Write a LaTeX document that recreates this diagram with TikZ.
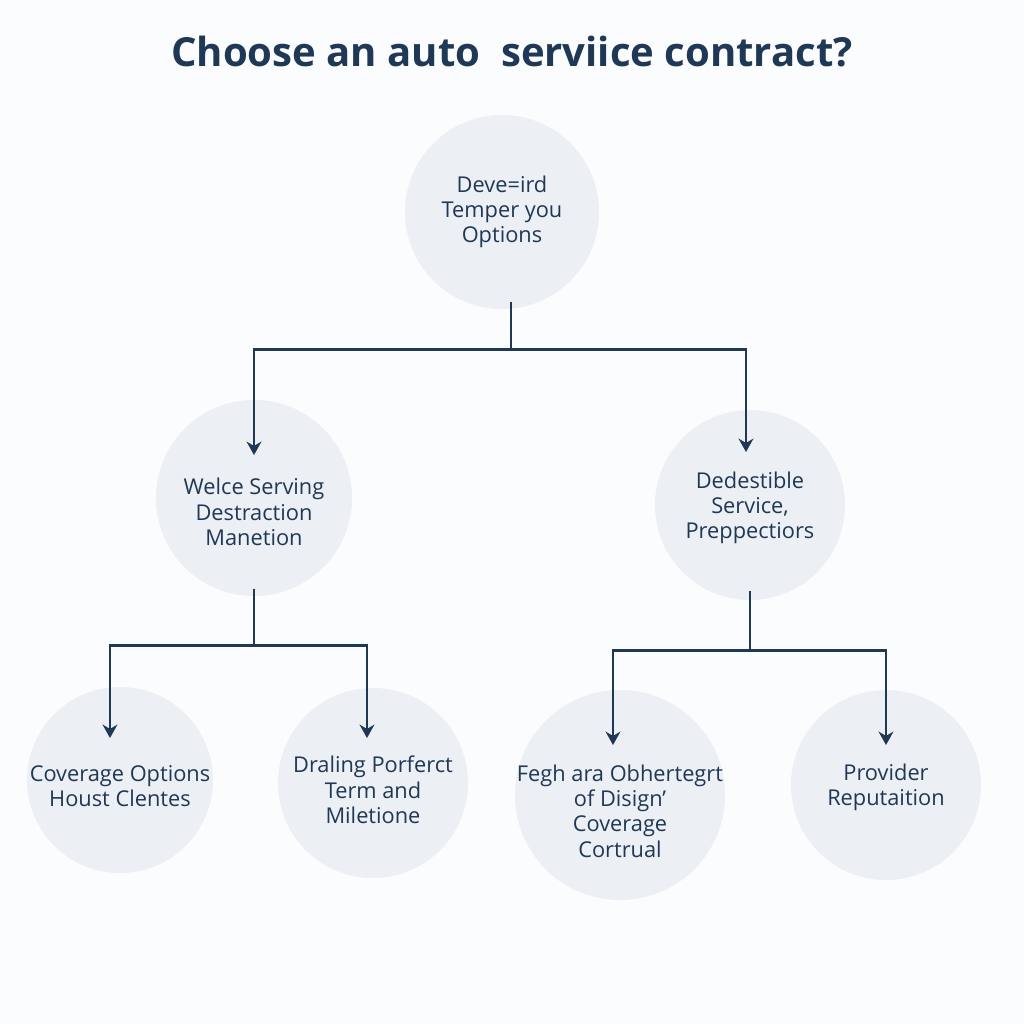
\documentclass[tikz,border=0pt]{standalone}
\usepackage{fontspec}
\setmainfont{Open Sans}
\usetikzlibrary{arrows.meta,positioning}
\definecolor{navy}{HTML}{1F3856}
\definecolor{bubblegray}{HTML}{ECEFF3}
\definecolor{paper}{HTML}{FBFCFD}

\begin{document}
\begin{tikzpicture}[
    bubble/.style={circle, fill=bubblegray, inner sep=0pt},
    txt/.style={text=navy, align=center, inner sep=0pt, font=\fontsize{6.2}{7.2}\selectfont},
    conn/.style={draw=navy, line width=0.85pt},
    arr/.style={conn, -{Stealth[length=3.8pt,width=4.2pt]}}]
\fill[paper] (0,0) rectangle (10.24,-10.24);
\useasboundingbox (0,0) rectangle (10.24,-10.24);

\node[text=navy, font=\bfseries\fontsize{11.4}{13}\selectfont] (title) at (5.12,-0.52) {Choose an auto\ \ serviice contract?};

%% circles
\node[bubble, minimum size=1.94cm, label={[txt]center:{Deve=ird\\Temper you\\Options}}] (root) at (5.02,-2.12) {};
\node[bubble, minimum size=1.96cm, label={[txt, yshift=-0.14cm]center:{Welce Serving\\Destraction\\Manetion}}] (wl) at (2.54,-4.98) {};
\node[bubble, minimum size=1.90cm, label={[txt, yshift=-0.03cm]center:{Dedestible\\Service,\\Preppectiors}}] (dr) at (7.50,-5.05) {};

\node[bubble, minimum size=1.86cm, label={[txt, yshift=-0.06cm]center:{Coverage Options\\Houst Clentes}}] (co) at (1.20,-7.80) {};
\node[bubble, minimum size=1.90cm, label={[txt, yshift=-0.07cm]center:{Draling Porferct\\Term and\\Miletione}}] (dp) at (3.73,-7.83) {};
\node[bubble, minimum size=2.10cm, label={[txt, yshift=-0.16cm]center:{Fegh ara Obhertegrt\\of Disign'\\Coverage\\Cortrual}}] (fo) at (6.20,-7.95) {};
\node[bubble, minimum size=1.90cm, label={[txt, yshift=-0.02cm]center:{Provider\\Reputaition}}] (pr) at (8.86,-7.85) {};

%% junctions and tips
\coordinate (j0) at (5.11,-3.49);
\coordinate (j1) at (2.54,-6.45);
\coordinate (j2) at (7.50,-6.50);
\coordinate (twl) at (2.54,-4.55);
\coordinate (tdr) at (7.46,-4.52);
\coordinate (tco) at (1.10,-7.38);
\coordinate (tdp) at (3.67,-7.38);
\coordinate (tfo) at (6.13,-7.45);
\coordinate (tpr) at (8.86,-7.45);

\draw[conn] (j0 |- root.south) ++(0,0.08) -- (j0);
\draw[arr] (j0) -| (twl);
\draw[arr] (j0) -| (tdr);

\draw[conn] (wl.south) ++(0,0.08) -- (j1);
\draw[arr] (j1) -| (tco);
\draw[arr] (j1) -| (tdp);

\draw[conn] (dr.south) ++(0,0.1) -- (j2);
\draw[arr] (j2) -| (tfo);
\draw[arr] (j2) -| (tpr);

\end{tikzpicture}
\end{document}
